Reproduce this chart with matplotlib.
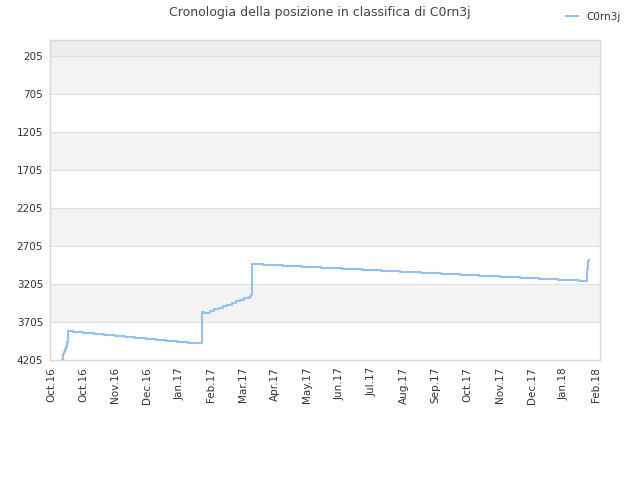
import matplotlib
matplotlib.use('Agg')
from matplotlib import pyplot as plt
import pandas as pd

# dati: posizione in classifica di C0rn3j
dates = ['2016-10-11', '2016-10-12', '2016-10-13', '2016-10-14', '2016-10-15',
         '2016-10-16', '2016-10-17', '2016-10-22', '2016-10-31', '2016-11-10',
         '2016-11-20', '2016-11-30', '2016-12-09', '2016-12-19', '2016-12-29',
         '2017-01-07', '2017-01-17', '2017-01-27', '2017-02-06', '2017-02-19',
         '2017-02-21', '2017-02-27', '2017-03-03', '2017-03-07', '2017-03-11',
         '2017-03-15', '2017-03-19', '2017-03-23', '2017-03-27', '2017-03-31',
         '2017-04-04', '2017-04-06', '2017-04-07', '2017-04-17', '2017-05-06',
         '2017-05-24', '2017-06-11', '2017-06-30', '2017-07-19', '2017-08-06',
         '2017-08-24', '2017-09-12', '2017-10-01', '2017-10-19', '2017-11-06',
         '2017-11-25', '2017-12-14', '2018-01-01', '2018-01-19', '2018-02-07',
         '2018-02-15', '2018-02-16', '2018-02-17']
ranks = [4205, 4130, 4104, 4060, 4038,
         3965, 3820, 3833, 3846, 3859,
         3872, 3885, 3898, 3911, 3925,
         3938, 3951, 3964, 3980, 3570,
         3583, 3561, 3540, 3518, 3497,
         3476, 3455, 3434, 3413, 3392,
         3371, 3350, 2938, 2951, 2964,
         2977, 2990, 3003, 3017, 3030,
         3043, 3056, 3069, 3082, 3095,
         3108, 3121, 3134, 3147, 3160,
         3012, 2903, 2895]
y_ticks = [205, 705, 1205, 1705, 2205, 2705, 3205, 3705, 4205]
x_ticks = pd.date_range('2016-10-01', '2018-02-23', freq='30D')

dates = pd.to_datetime(dates)

fig = plt.figure(figsize=(6.4, 4.8), dpi=100)
ax = fig.add_axes([50/640, 120/480, 550/640, 320/480])

# fasce alternate
ax.axhspan(-5, y_ticks[0], color='#eeeeee', zorder=0, lw=0)
for i in range(0, len(y_ticks) - 1, 2):
    ax.axhspan(y_ticks[i], y_ticks[i+1], color='#f3f3f3', zorder=0, lw=0)
for t in y_ticks:
    ax.axhline(t, color='#e0e0e0', lw=0.8, zorder=1)

ax.plot(dates, ranks, drawstyle='steps-post', color='#90c2f3', lw=1.5,
        zorder=3, label='C0rn3j')

ax.set_ylim(4205, -5)
ax.set_xlim(pd.Timestamp('2016-09-30'), pd.Timestamp('2018-02-27'))
ax.set_yticks(y_ticks)
ax.set_xticks(x_ticks)
ax.set_xticklabels([d.strftime('%b.%y') for d in x_ticks], rotation=90)
ax.tick_params(axis='both', length=0, labelsize=7.5, colors='#333333', pad=5)
for s in ax.spines.values():
    s.set_color('#d8d8d8')
    s.set_linewidth(1)

fig.text(0.5, 0.988, 'Cronologia della posizione in classifica di C0rn3j',
         ha='center', va='top', fontsize=9, color='#444444')
fig.legend(loc='upper right', bbox_to_anchor=(0.985, 0.995), frameon=False,
           fontsize=7.5, handlelength=1.2, labelcolor='#333333')

plt.savefig('out.png')
